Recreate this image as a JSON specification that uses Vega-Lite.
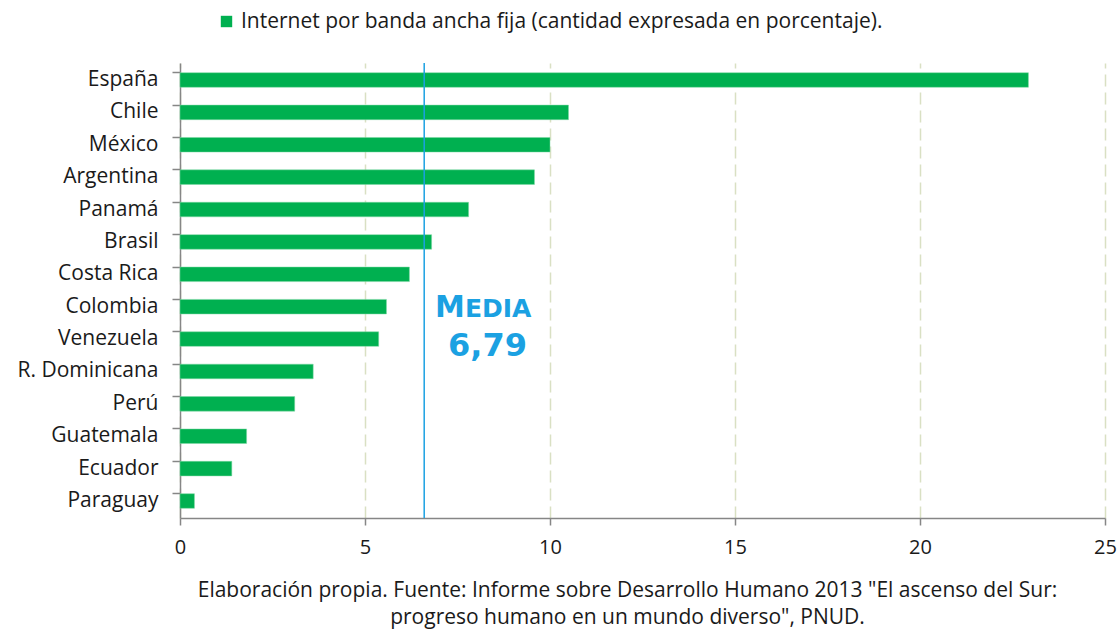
{
  "$schema": "https://vega.github.io/schema/vega-lite/v6.json",
  "width": 925,
  "height": 455,
  "autosize": {"type": "none"},
  "padding": {"left": 180, "top": 63, "right": 15, "bottom": 114},
  "background": "white",
  "config": {
    "view": {"stroke": null},
    "font": "Open Sans"
  },
  "title": {
    "text": ["Elaboración propia.  Fuente:  Informe sobre Desarrollo Humano 2013 \"El ascenso del Sur:", "progreso humano en un mundo diverso\", PNUD."],
    "orient": "bottom",
    "anchor": "middle",
    "frame": "group",
    "dx": -15,
    "offset": 23,
    "fontSize": 21,
    "fontWeight": "normal",
    "lineHeight": 27,
    "color": "#1a1a1a",
    "font": "Open Sans"
  },
  "data": {
    "values": [
      {"pais": "España", "valor": 22.93, "serie": "Internet por banda ancha fija (cantidad expresada en porcentaje)."},
      {"pais": "Chile", "valor": 10.5, "serie": "Internet por banda ancha fija (cantidad expresada en porcentaje)."},
      {"pais": "México", "valor": 10.0, "serie": "Internet por banda ancha fija (cantidad expresada en porcentaje)."},
      {"pais": "Argentina", "valor": 9.58, "serie": "Internet por banda ancha fija (cantidad expresada en porcentaje)."},
      {"pais": "Panamá", "valor": 7.8, "serie": "Internet por banda ancha fija (cantidad expresada en porcentaje)."},
      {"pais": "Brasil", "valor": 6.8, "serie": "Internet por banda ancha fija (cantidad expresada en porcentaje)."},
      {"pais": "Costa Rica", "valor": 6.2, "serie": "Internet por banda ancha fija (cantidad expresada en porcentaje)."},
      {"pais": "Colombia", "valor": 5.58, "serie": "Internet por banda ancha fija (cantidad expresada en porcentaje)."},
      {"pais": "Venezuela", "valor": 5.37, "serie": "Internet por banda ancha fija (cantidad expresada en porcentaje)."},
      {"pais": "R. Dominicana", "valor": 3.6, "serie": "Internet por banda ancha fija (cantidad expresada en porcentaje)."},
      {"pais": "Perú", "valor": 3.1, "serie": "Internet por banda ancha fija (cantidad expresada en porcentaje)."},
      {"pais": "Guatemala", "valor": 1.8, "serie": "Internet por banda ancha fija (cantidad expresada en porcentaje)."},
      {"pais": "Ecuador", "valor": 1.4, "serie": "Internet por banda ancha fija (cantidad expresada en porcentaje)."},
      {"pais": "Paraguay", "valor": 0.39, "serie": "Internet por banda ancha fija (cantidad expresada en porcentaje)."}
    ]
  },
  "layer": [
    {
      "mark": {"type": "bar", "stroke": "#7fd8a5", "strokeWidth": 0.5},
      "encoding": {
        "y": {
          "field": "pais",
          "type": "nominal",
          "sort": null,
          "scale": {"paddingInner": 0.55, "paddingOuter": 0.3},
          "axis": {
            "title": null,
            "bandPosition": 0,
            "domainColor": "#868686",
            "domainWidth": 1.5,
            "tickColor": "#868686",
            "tickWidth": 1.5,
            "tickSize": 8,
            "labelPadding": 14,
            "labelFontSize": 21,
            "labelColor": "#1a1a1a",
            "labelFont": "Open Sans",
            "grid": false
          }
        },
        "x": {
          "field": "valor",
          "type": "quantitative",
          "scale": {"domain": [0, 25], "nice": false},
          "axis": {
            "title": null,
            "values": [0, 5, 10, 15, 20, 25],
            "labelFlush": false,
            "domainColor": "#868686",
            "domainWidth": 1.5,
            "tickColor": "#868686",
            "tickWidth": 1.5,
            "tickSize": 7,
            "labelPadding": 12,
            "labelFontSize": 20,
            "labelColor": "#1a1a1a",
            "labelFont": "Open Sans",
            "grid": true,
            "gridColor": "#d9e0c3",
            "gridWidth": 1.5,
            "gridDash": [12, 6]
          }
        },
        "color": {
          "field": "serie",
          "type": "nominal",
          "scale": {"range": ["#00b050"]},
          "legend": {
            "title": null,
            "orient": "none",
            "legendX": 36,
            "legendY": -52,
            "padding": 0,
            "symbolType": "square",
            "symbolSize": 130,
            "symbolStrokeWidth": 0,
            "labelFontSize": 21,
            "labelColor": "#1a1a1a",
            "labelFont": "Open Sans",
            "labelLimit": 1000,
            "labelOffset": 4
          }
        }
      }
    },
    {
      "data": {"values": [{"media": 6.6}]},
      "mark": {"type": "rule", "color": "#1ba1e2", "strokeWidth": 1.5},
      "encoding": {"x": {"field": "media", "type": "quantitative"}}
    },
    {
      "data": {"values": [{"t": "M", "x": 7.7, "pais": "Colombia"}]},
      "mark": {"type": "text", "align": "right", "baseline": "alphabetic", "dy": 10, "fontSize": 30, "fontWeight": "bold", "font": "DejaVu Sans", "color": "#1ba1e2"},
      "encoding": {
        "x": {"field": "x", "type": "quantitative"},
        "y": {"field": "pais", "type": "nominal", "sort": null},
        "text": {"field": "t"}
      }
    },
    {
      "data": {"values": [{"t": "EDIA", "x": 7.7, "pais": "Colombia"}]},
      "mark": {"type": "text", "align": "left", "baseline": "alphabetic", "dy": 10, "fontSize": 25, "fontWeight": "bold", "font": "DejaVu Sans", "color": "#1ba1e2"},
      "encoding": {
        "x": {"field": "x", "type": "quantitative"},
        "y": {"field": "pais", "type": "nominal", "sort": null},
        "text": {"field": "t"}
      }
    },
    {
      "data": {"values": [{"t": "6,79", "x": 8.31, "pais": "Venezuela"}]},
      "mark": {"type": "text", "align": "center", "baseline": "alphabetic", "dy": 17, "fontSize": 32, "fontWeight": "bold", "font": "DejaVu Sans", "color": "#1ba1e2"},
      "encoding": {
        "x": {"field": "x", "type": "quantitative"},
        "y": {"field": "pais", "type": "nominal", "sort": null},
        "text": {"field": "t"}
      }
    }
  ]
}
